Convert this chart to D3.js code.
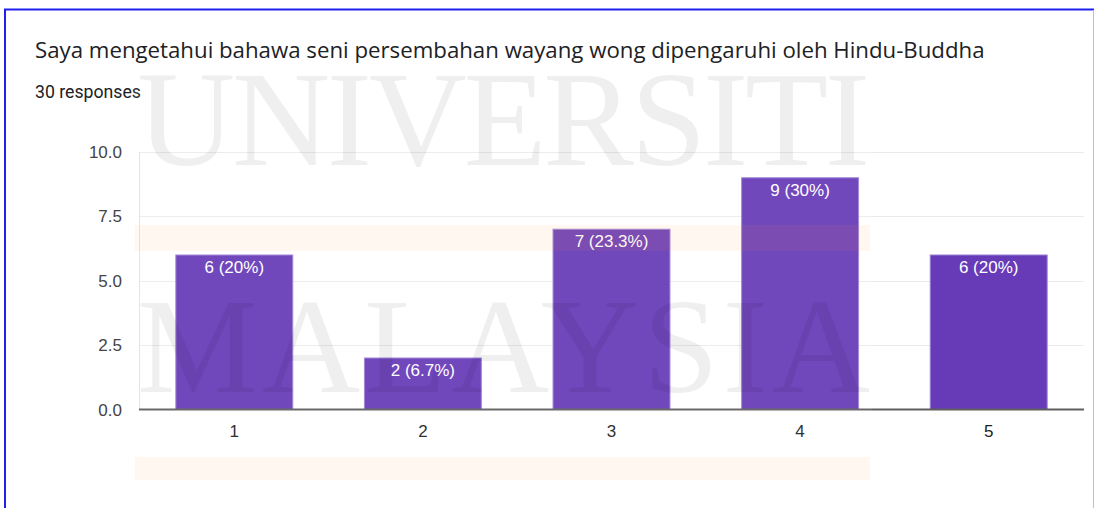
<!DOCTYPE html>
<html>
<head>
<meta charset="utf-8">
<script src="https://cdn.jsdelivr.net/npm/d3@7"></script>
<style>
  body { margin: 0; background: #fff; }
  svg { display: block; }
</style>
</head>
<body>
<svg width="1095" height="508"></svg>
<script>
// chart data
const categories = ['1', '2', '3', '4', '5']
const counts = [6, 2, 7, 9, 6]
const labels = ['6 (20%)', '2 (6.7%)', '7 (23.3%)', '9 (30%)', '6 (20%)']
const yTicks = [0, 2.5, 5, 7.5, 10]
const title = 'Saya mengetahui bahawa seni persembahan wayang wong dipengaruhi oleh Hindu-Buddha'
const subtitle = '30 responses'
const watermarkWords = ['UNIVERSITI', 'MALAYSIA']

const svg = d3.select('svg')
const width = +svg.attr('width')
const height = +svg.attr('height')
const sans = '"Liberation Sans", Arial, sans-serif'

// plot box
const plotLeft = 139, plotRight = 1084, plotTop = 152, plotBottom = 409.5

const x = d3.scaleBand()
  .domain(categories)
  .range([plotLeft + 1, plotRight - 1])
  .paddingInner(0.38)
  .paddingOuter(0.19)

const y = d3.scaleLinear()
  .domain([0, 10])
  .range([plotBottom, plotTop])

svg.append('rect').attr('width', width).attr('height', height).attr('fill', '#fff')

// frame round the screenshot
svg.append('line').attr('x1', 5).attr('x2', 5).attr('y1', 9).attr('y2', height)
  .attr('stroke', '#1f1ff0').attr('stroke-width', 2)
svg.append('line').attr('x1', 4).attr('x2', 1094).attr('y1', 9.5).attr('y2', 9.5)
  .attr('stroke', '#1f1ff0').attr('stroke-width', 2)
svg.append('line').attr('x1', 1093.5).attr('x2', 1093.5).attr('y1', 10).attr('y2', height)
  .attr('stroke', '#b8b8ff').attr('stroke-width', 1)

// shrink/grow a text so it spans w pixels
function fitText (sel, size, w) {
  const tw = sel.node().getComputedTextLength()
  sel.style('font-size', (size * w / tw) + 'px')
}

// title + subtitle
const t = svg.append('text')
  .attr('x', 35).attr('y', 58)
  .attr('fill', '#202124')
  .style('font-family', '"Open Sans", Roboto, sans-serif')
  .style('font-size', '20px')
  .text(title)
fitText(t, 20, 950)

const st = svg.append('text')
  .attr('x', 35).attr('y', 98)
  .attr('fill', '#202124')
  .style('font-family', 'Roboto, sans-serif')
  .style('font-size', '16px')
  .text(subtitle)
fitText(st, 16, 106)

// gridlines
const g = svg.append('g')
g.selectAll('line.grid')
  .data(yTicks.filter(d => d > 0))
  .enter().append('line')
    .attr('class', 'grid')
    .attr('x1', plotLeft).attr('x2', plotRight)
    .attr('y1', d => Math.round(y(d)) + 0.5).attr('y2', d => Math.round(y(d)) + 0.5)
    .attr('stroke', '#ebebeb')

g.append('line')
  .attr('x1', plotLeft + 0.5).attr('x2', plotLeft + 0.5)
  .attr('y1', plotTop).attr('y2', plotBottom)
  .attr('stroke', '#e3e3e3')

// y tick labels
g.selectAll('text.ytick')
  .data(yTicks)
  .enter().append('text')
    .attr('class', 'ytick')
    .attr('x', 122)
    .attr('y', d => y(d) + 6)
    .attr('text-anchor', 'end')
    .attr('fill', '#444')
    .style('font-family', sans)
    .style('font-size', '17px')
    .text(d => d.toFixed(1))

// bars
g.selectAll('rect.bar')
  .data(counts)
  .enter().append('rect')
    .attr('class', 'bar')
    .attr('x', (d, i) => x(categories[i]))
    .attr('y', d => y(d))
    .attr('width', x.bandwidth())
    .attr('height', d => plotBottom - y(d))
    .attr('fill', '#673ab7')
    .attr('stroke', '#9c80d6')
    .attr('stroke-width', 1)

// value labels inside bars
g.selectAll('text.val')
  .data(counts)
  .enter().append('text')
    .attr('class', 'val')
    .attr('x', (d, i) => x(categories[i]) + x.bandwidth() / 2)
    .attr('y', d => y(d) + 18)
    .attr('text-anchor', 'middle')
    .attr('fill', '#fff')
    .style('font-family', sans)
    .style('font-size', '17px')
    .text((d, i) => labels[i])

// x axis baseline
g.append('line')
  .attr('x1', plotLeft).attr('x2', plotRight)
  .attr('y1', plotBottom).attr('y2', plotBottom)
  .attr('stroke', '#5f5f5f').attr('stroke-width', 2)

g.selectAll('text.xtick')
  .data(categories)
  .enter().append('text')
    .attr('class', 'xtick')
    .attr('x', d => x(d) + x.bandwidth() / 2)
    .attr('y', 437)
    .attr('text-anchor', 'middle')
    .attr('fill', '#222')
    .style('font-family', sans)
    .style('font-size', '17px')
    .text(d => d)

// watermark layer sitting over the chart
const wm = svg.append('g').style('pointer-events', 'none')
wm.append('rect')
  .attr('x', 133).attr('y', 62).attr('width', 739).attr('height', 423)
  .attr('fill', '#fff').attr('opacity', 0.07)

wm.append('rect')
  .attr('x', 135).attr('y', 225).attr('width', 735).attr('height', 26)
  .attr('fill', '#ff8c28').attr('opacity', 0.07)
wm.append('rect')
  .attr('x', 135).attr('y', 457).attr('width', 735).attr('height', 23)
  .attr('fill', '#ff8c28').attr('opacity', 0.07)

wm.selectAll('text.wm')
  .data(watermarkWords)
  .enter().append('text')
    .attr('class', 'wm')
    .attr('x', 137)
    .attr('y', (d, i) => i === 0 ? 165 : 392)
    .attr('textLength', 733)
    .attr('lengthAdjust', 'spacing')
    .attr('fill', '#000')
    .attr('opacity', 0.06)
    .style('font-family', '"Liberation Serif", "DejaVu Serif", serif')
    .style('font-size', '136px')
    .text(d => d)
</script>
</body>
</html>
